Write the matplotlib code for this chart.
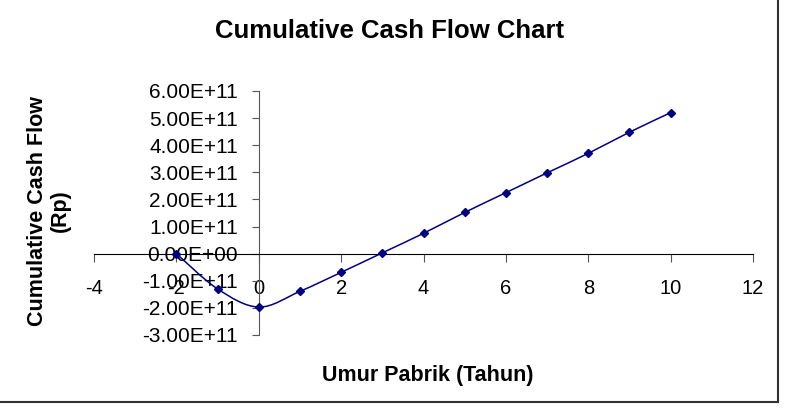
import matplotlib
matplotlib.use('Agg')
import matplotlib.pyplot as plt
from matplotlib.path import Path
from matplotlib.patches import PathPatch
from matplotlib.lines import Line2D
from matplotlib.ticker import FuncFormatter

# tahun ke- dan cumulative cash flow (Rp)
tahun = [-2, -1, 0, 1, 2, 3, 4, 5, 6, 7, 8, 9, 10]
cash_flow = [0.0, -1.30e11, -1.97e11, -1.39e11, -0.69e11, 0.03e11,
             0.75e11, 1.52e11, 2.25e11, 2.98e11, 3.70e11, 4.48e11, 5.20e11]
x_ticks = [-4, -2, 0, 2, 4, 6, 8, 10, 12]
y_ticks = [-3e11, -2e11, -1e11, 0, 1e11, 2e11, 3e11, 4e11, 5e11, 6e11]

plt.rcParams['font.family'] = ['Liberation Sans', 'DejaVu Sans']
plt.rcParams['axes.unicode_minus'] = False
navy = '#000080'

fig = plt.figure(figsize=(7.87, 4.08), dpi=100)
ax = fig.add_axes([94/787, 1 - 335/408, 659/787, 244/408])
ax.set_xlim(-4, 12)
ax.set_ylim(-3e11, 6e11)

# smoothed line like excel (catmull-rom -> bezier)
pts = list(zip(tahun, cash_flow))
verts = [pts[0]]
codes = [Path.MOVETO]
for i in range(len(pts) - 1):
    p0 = pts[i - 1] if i > 0 else pts[i]
    p1 = pts[i]
    p2 = pts[i + 1]
    p3 = pts[i + 2] if i + 2 < len(pts) else pts[i + 1]
    c1 = (p1[0] + (p2[0] - p0[0]) / 6, p1[1] + (p2[1] - p0[1]) / 6)
    c2 = (p2[0] - (p3[0] - p1[0]) / 6, p2[1] - (p3[1] - p1[1]) / 6)
    verts += [c1, c2, p2]
    codes += [Path.CURVE4] * 3
ax.add_patch(PathPatch(Path(verts, codes), facecolor='none', edgecolor=navy, lw=1.1, zorder=3))
ax.plot(tahun, cash_flow, linestyle='none', marker='D', ms=4.5, color=navy, zorder=4)

for s in ['top', 'right']:
    ax.spines[s].set_visible(False)
ax.spines['left'].set_position(('data', 0))
ax.spines['bottom'].set_position(('data', 0))
ax.spines['left'].set_color('#555555')
ax.spines['bottom'].set_color('black')

ax.set_xticks(x_ticks)
ax.set_yticks(y_ticks)
ax.yaxis.set_major_formatter(FuncFormatter(lambda v, p: f"{v:.2E}"))
ax.tick_params(axis='x', direction='out', length=6, pad=12, labelsize=14.5, color='#555555')
ax.tick_params(axis='y', direction='out', length=5, pad=10, labelsize=15, color='#555555')
ax.set_facecolor('none')

fig.text(390/787, 1 - 31/408, 'Cumulative Cash Flow Chart', ha='center', va='center',
         fontsize=18.5, fontweight='bold')
fig.text(428/787, 1 - 375/408, 'Umur Pabrik (Tahun)', ha='center', va='center',
         fontsize=15.5, fontweight='bold')
fig.text(49/787, 1 - 211/408, 'Cumulative Cash Flow\n(Rp)', ha='center', va='center',
         rotation=90, fontsize=15.5, fontweight='bold', linespacing=1.1)

# chart border (right & bottom visible)
fig.add_artist(Line2D([778/787, 778/787], [1 - 402/408, 1.0], color='#333333', lw=1.5))
fig.add_artist(Line2D([0, 778/787], [1 - 402/408, 1 - 402/408], color='#333333', lw=1.5))

fig.savefig('out.png', dpi=100)
